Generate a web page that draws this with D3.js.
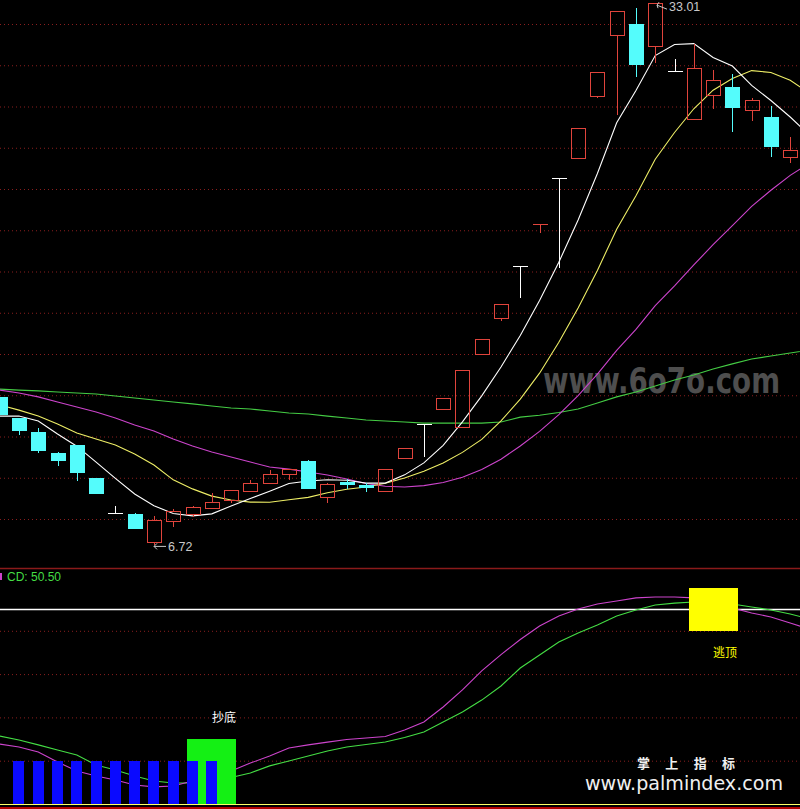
<!DOCTYPE html>
<html><head><meta charset="utf-8">
<script src="https://cdn.jsdelivr.net/npm/d3@7"></script>
<style>html,body{margin:0;padding:0;background:#000;overflow:hidden}</style>
</head><body><svg id="c" width="800" height="809"></svg>
<script>
// ---- price data (per candle) ----
const opens  = [13.92,12.90,12.22,11.20,11.59,9.99,8.29,8.24,6.88,7.90,8.24,8.53,8.92,9.36,9.75,10.18,10.81,9.07,9.79,9.65,9.36,10.96,12.61,13.33,12.46,16.00,17.75,20.27,22.28,24.53,25.50,28.51,31.47,32.00,30.93,29.72,27.39,28.56,28.95,27.83,27.49,25.55];
const highs  = [13.92,12.90,12.41,11.25,11.59,9.99,8.63,8.29,8.15,8.48,8.63,9.26,9.41,9.89,10.38,10.42,10.86,9.75,9.94,9.75,10.42,11.44,12.61,13.87,15.22,16.73,18.42,20.27,22.30,24.53,26.96,29.67,32.63,32.78,33.01,30.30,31.03,29.77,29.58,28.41,28.02,26.52];
const lows   = [13.04,12.07,11.20,10.57,9.84,9.21,8.29,7.52,6.72,7.61,8.10,8.48,8.78,9.36,9.75,9.89,9.45,8.78,9.45,9.31,9.36,10.91,11.01,13.33,12.46,16.00,17.60,18.72,21.87,20.17,25.50,28.41,27.59,29.43,30.11,29.72,27.39,27.88,26.76,27.30,25.55,25.26];
const closes = [13.04,12.27,11.30,10.81,10.23,9.21,8.29,7.52,7.95,8.39,8.58,8.82,9.41,9.75,10.18,10.42,9.45,9.70,9.65,9.50,10.42,11.44,12.61,13.87,15.22,16.73,18.42,20.27,22.30,24.53,26.96,29.67,32.63,30.01,33.01,29.72,29.87,29.28,27.93,28.32,26.04,25.89];

// moving averages (last value at the right edge)
const ma5  = [12.99,12.99,12.75,12.12,11.53,10.76,9.97,9.21,8.64,8.27,8.15,8.25,8.63,8.99,9.35,9.72,9.84,9.90,9.88,9.74,9.74,10.14,10.72,11.57,12.71,13.97,15.37,16.90,18.59,20.45,22.50,24.75,27.21,28.78,30.47,31.01,31.05,30.38,29.96,29.02,28.29,27.49,26.62];
const ma10 = [13.53,13.28,12.99,12.61,12.17,11.88,11.59,11.15,10.62,9.90,9.46,9.11,8.92,8.82,8.81,8.93,9.05,9.27,9.44,9.55,9.73,9.99,10.31,10.72,11.23,11.86,12.76,13.81,15.07,16.57,18.23,20.05,22.05,23.67,25.44,26.74,27.89,28.79,29.36,29.74,29.65,29.27,28.65];
const ma20 = [14.25,14.11,13.92,13.67,13.43,13.19,12.90,12.56,12.27,11.88,11.54,11.25,11.01,10.76,10.52,10.42,10.28,10.13,9.94,9.72,9.59,9.55,9.62,9.77,10.02,10.40,10.90,11.54,12.25,13.06,13.98,15.02,16.18,17.19,18.34,19.30,20.32,21.30,22.22,23.16,23.94,24.66,25.26];
const ma60 = [14.30,14.25,14.21,14.16,14.11,14.06,13.96,13.87,13.77,13.67,13.58,13.48,13.38,13.33,13.24,13.14,13.09,12.99,12.90,12.80,12.75,12.70,12.65,12.65,12.65,12.65,12.70,12.94,13.03,13.16,13.33,13.62,13.92,14.16,14.45,14.74,14.98,15.27,15.52,15.76,15.90,16.05,16.19];
const gridPrices = [8,10,12,14,16,18,20,22,24,26,28,30,32];
const lowLabel = {idx: 8, value: 6.72, text: "6.72"};
const highLabel = {idx: 34, value: 33.01, text: "33.01"};

// ---- indicator panel ----
const subMagenta = [27.7,26.3,24.0,19.4,15.2,12.9,11.1,8.8,7.9,8.3,10.6,12.9,15.2,18.9,22.2,25.9,27.3,28.6,29.8,30.5,31.2,34.2,37.9,44.8,52.7,61.5,69.0,76.0,82.2,86.8,90.1,92.4,93.8,95.2,95.6,95.6,95.2,92.8,90.5,88.2,86.4,83.6,80.8];
const subGreen   = [31.4,29.6,27.3,24.9,22.6,18.0,15.7,12.9,10.6,9.7,9.7,10.2,12.2,14.3,17.6,19.9,22.2,24.5,26.3,27.5,28.6,30.7,33.3,37.9,42.5,48.0,54.5,62.8,68.8,74.8,79.0,82.7,86.8,89.6,91.9,92.8,93.3,93.1,92.4,91.0,89.6,87.8,85.5];
const subGrid = [20,40,60,80];
const subLevel = 90;
const blueIdx = [1,2,3,4,5,6,7,8,9,10,11];
const blueTop = 20;
const buyStick = {idx: 11, from: 0, to: 30, label: "抄底", labelAt: 40};
const sellStick = {idx: 37, from: 80, to: 100, label: "逃顶", labelAt: 70};
const cdLabel = "CD: 50.50";

// ---- drawing ----
const W = 800, H = 809;
const svg = d3.select("#c");
svg.append("rect").attr("width", W).attr("height", H).attr("fill", "#000");

const x = d3.scaleLinear().domain([0, 41]).range([-0.3, 790.2]);
const y = d3.scaleLinear().domain([8, 32]).range([519, 24]);
const ys = d3.scaleLinear().domain([0, 100]).range([804, 587.5]);

const RED = "#e0443c", CYAN = "#54fcfc";

// watermark
svg.append("text").attr("transform", "translate(543,393) scale(1,1.3)")
  .attr("font-family", "DejaVu Sans").attr("font-weight", "bold").attr("font-size", 27)
  .attr("textLength", 237).attr("lengthAdjust", "spacingAndGlyphs")
  .attr("fill", "#4e4e4e").text("www.6o7o.com");

// main grid
const gridG = svg.append("g").call(d3.axisLeft(y).tickValues(gridPrices).tickSize(-W).tickFormat(""));
gridG.select(".domain").remove();
gridG.selectAll("line").attr("stroke", "#8a1e1e").attr("stroke-dasharray", "1,3");

// MA lines
const clip = svg.append("clipPath").attr("id", "mainclip");
clip.append("rect").attr("x", 0).attr("y", 0).attr("width", W).attr("height", 567);
const lineMain = d3.line().x((d, i) => x(i)).y(d => y(d));
const mainLines = svg.append("g").attr("clip-path", "url(#mainclip)");
[[ma60, "#44cc44"], [ma20, "#cc44cc"], [ma10, "#eeee66"], [ma5, "#ffffff"]].forEach(([arr, col]) => {
  mainLines.append("path").datum(arr).attr("d", lineMain).attr("fill", "none").attr("stroke", col).attr("stroke-width", 1.1);
});

// candles
const cg = svg.append("g").attr("shape-rendering", "crispEdges");
closes.forEach((c, i) => {
  const o = opens[i], h = highs[i], l = lows[i];
  const cx = Math.round(x(i));
  const yo = y(o), yc = y(c), yh = y(h), yl = y(l);
  if (Math.abs(yo - yc) < 1) {
    const col = c > o ? RED : "#ffffff";
    const yy = Math.round(yc) + 0.5;
    cg.append("line").attr("x1", cx - 7).attr("x2", cx + 8).attr("y1", yy).attr("y2", yy).attr("stroke", col);
    cg.append("line").attr("x1", cx + 0.5).attr("x2", cx + 0.5).attr("y1", Math.round(yh)).attr("y2", Math.round(yl)).attr("stroke", col);
  } else if (c > o) {
    const top = Math.round(yc), bot = Math.round(yo);
    if (yh < top) cg.append("line").attr("x1", cx + 0.5).attr("x2", cx + 0.5).attr("y1", Math.round(yh)).attr("y2", top).attr("stroke", RED);
    if (yl > bot) cg.append("line").attr("x1", cx + 0.5).attr("x2", cx + 0.5).attr("y1", bot).attr("y2", Math.round(yl)).attr("stroke", RED);
    cg.append("rect").attr("x", cx - 7 + 0.5).attr("y", top + 0.5).attr("width", 14).attr("height", bot - top)
      .attr("fill", "none").attr("stroke", RED);
  } else {
    cg.append("line").attr("x1", cx + 0.5).attr("x2", cx + 0.5).attr("y1", Math.round(yh)).attr("y2", Math.round(yl)).attr("stroke", CYAN);
    cg.append("rect").attr("x", cx - 7).attr("y", Math.round(yo)).attr("width", 15).attr("height", Math.round(yc) - Math.round(yo))
      .attr("fill", CYAN);
  }
});

// high / low labels
function arrowLabel(lbl, dy, tilt) {
  const cx = Math.round(x(lbl.idx));
  const yy = y(lbl.value);
  const ay = yy + dy;
  const g = svg.append("g").attr("stroke", "#c8c8c8").attr("fill", "none");
  if (tilt) {
    g.append("path").attr("d", `M${cx + 12},${ay + 3} L${cx + 2},${ay - 1} M${cx + 2},${ay - 1} l2,-3 M${cx + 2},${ay - 1} l1,3`);
  } else {
    g.append("path").attr("d", `M${cx + 12},${ay} L${cx},${ay} M${cx},${ay} l3,-3 M${cx},${ay} l3,3`);
  }
  svg.append("text").attr("x", cx + 14).attr("y", ay + 5).attr("fill", "#c8c8c8")
    .attr("font-family", "Liberation Sans, Arial, sans-serif").attr("font-size", 12.5).text(lbl.text);
}
arrowLabel(lowLabel, 1, false);
arrowLabel(highLabel, 3, true);

// panel separator
svg.append("line").attr("x1", 0).attr("x2", W).attr("y1", 568.5).attr("y2", 568.5).attr("stroke", "#8a1a1a").attr("stroke-width", 1.5);

// ---- sub panel ----
const subGridG = svg.append("g").call(d3.axisLeft(ys).tickValues(subGrid).tickSize(-W).tickFormat(""));
subGridG.select(".domain").remove();
subGridG.selectAll("line").attr("stroke", "#8a1e1e").attr("stroke-dasharray", "1,3");

svg.append("line").attr("x1", 0).attr("x2", W).attr("y1", Math.round(ys(subLevel)) + 0.5).attr("y2", Math.round(ys(subLevel)) + 0.5)
  .attr("stroke", "#ffffff").attr("stroke-width", 1.3);

// watermark palmindex (behind marks)
svg.append("text").attr("x", 686).attr("y", 768).attr("text-anchor", "middle")
  .attr("font-family", "Noto Sans CJK SC").attr("font-weight", "bold").attr("font-size", 13)
  .attr("textLength", 98).attr("lengthAdjust", "spacing").attr("fill", "#f0f0f0").text("掌 上 指 标");
svg.append("text").attr("x", 585).attr("y", 790)
  .attr("font-family", "DejaVu Sans").attr("font-size", 19)
  .attr("textLength", 198).attr("lengthAdjust", "spacingAndGlyphs").attr("fill", "#f0f0f0").text("www.palmindex.com");

const lineSub = d3.line().x((d, i) => x(i)).y(d => ys(d));
svg.append("path").datum(subGreen).attr("d", lineSub).attr("fill", "none").attr("stroke", "#44dd44").attr("stroke-width", 1.1);
svg.append("path").datum(subMagenta).attr("d", lineSub).attr("fill", "none").attr("stroke", "#cc44cc").attr("stroke-width", 1.1);

// buy stick (wide green)
{
  const cx = x(buyStick.idx);
  svg.append("rect").attr("x", Math.round(cx - 24.5)).attr("width", 49)
    .attr("y", Math.round(ys(buyStick.to))).attr("height", Math.round(ys(buyStick.from)) - Math.round(ys(buyStick.to)))
    .attr("fill", "#14f014");
}
// blue bars
svg.append("g").selectAll("rect").data(blueIdx).join("rect")
  .attr("x", d => Math.round(x(d) - 5.5)).attr("width", 11)
  .attr("y", Math.round(ys(blueTop))).attr("height", Math.round(ys(0)) - Math.round(ys(blueTop)))
  .attr("fill", "#0a0aff");
// sell stick (yellow)
{
  const cx = x(sellStick.idx);
  svg.append("rect").attr("x", Math.round(cx - 24.5)).attr("width", 49)
    .attr("y", Math.round(ys(sellStick.to))).attr("height", Math.round(ys(sellStick.from)) - Math.round(ys(sellStick.to)))
    .attr("fill", "#ffff00");
}
svg.append("text").attr("x", Math.round(x(buyStick.idx))).attr("y", ys(buyStick.labelAt) + 5)
  .attr("font-family", "Noto Sans CJK SC").attr("font-size", 12).attr("fill", "#ffffff").text(buyStick.label);
svg.append("text").attr("x", Math.round(x(sellStick.idx))).attr("y", ys(sellStick.labelAt) + 5)
  .attr("font-family", "Noto Sans CJK SC").attr("font-size", 12).attr("fill", "#ffff00").text(sellStick.label);

// CD label (with clipped magenta marker at left edge)
svg.append("rect").attr("x", 0).attr("y", 573).attr("width", 2).attr("height", 7).attr("fill", "#cc44cc");
svg.append("text").attr("x", 7).attr("y", 581).attr("font-family", "Liberation Sans, Arial, sans-serif")
  .attr("font-size", 12).attr("fill", "#44dd44").text(cdLabel);

// zero line & bottom border
svg.append("line").attr("x1", 0).attr("x2", W).attr("y1", Math.round(ys(0)) + 0.5).attr("y2", Math.round(ys(0)) + 0.5).attr("stroke", "#ffff66");
svg.append("line").attr("x1", 0).attr("x2", W).attr("y1", 808).attr("y2", 808).attr("stroke", "#b00000").attr("stroke-width", 2);
</script></body></html>
